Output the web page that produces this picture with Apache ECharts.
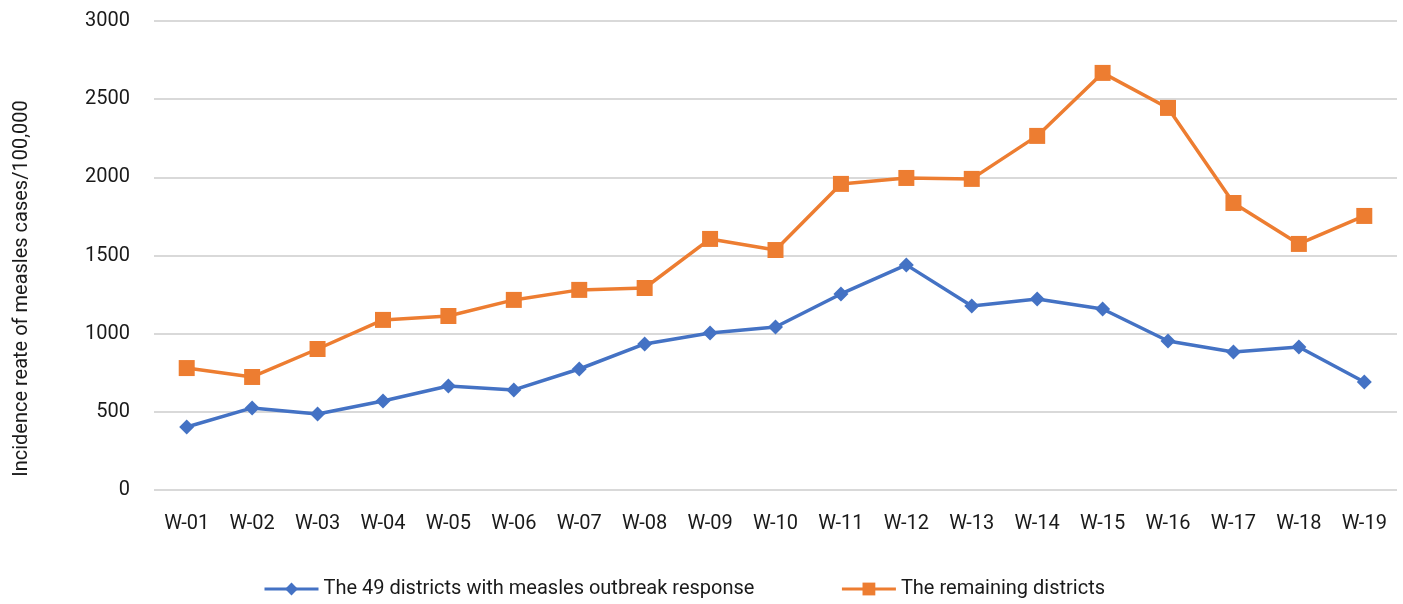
<!DOCTYPE html>
<html>
<head>
<meta charset="utf-8">
<script src="https://cdn.jsdelivr.net/npm/echarts@6/dist/echarts.min.js"></script>
<style>
  html, body { margin: 0; padding: 0; background: #fff; }
  #chart { width: 1403px; height: 604px; }
</style>
</head>
<body>
<div id="chart"></div>
<script>
let weeks = ["W-01", "W-02", "W-03", "W-04", "W-05", "W-06", "W-07", "W-08", "W-09", "W-10",
             "W-11", "W-12", "W-13", "W-14", "W-15", "W-16", "W-17", "W-18", "W-19"];
let outbreakResponse = [403, 525, 486, 569, 665, 640, 774, 934, 1004, 1043,
                        1254, 1440, 1177, 1222, 1158, 953, 883, 915, 691];
let remaining = [780, 723, 902, 1088, 1113, 1216, 1280, 1292, 1606, 1535,
                 1958, 1996, 1990, 2265, 2668, 2444, 1836, 1574, 1753];

let fontName = "Roboto, sans-serif";

var myChart = echarts.init(document.getElementById("chart"));

let option = {
    animation: false,
    textStyle: { fontFamily: fontName, color: '#1a1a1a' },
    grid: { left: 154, right: 6, top: 21, bottom: 114 },
    legend: {
        bottom: 0,
        left: 258,
        itemGap: 86,
        itemWidth: 54,
        itemHeight: 16,
        lineStyle: { width: 3 },
        textStyle: { fontFamily: fontName, fontSize: 20, color: '#1a1a1a' },
        data: ['The 49 districts with measles outbreak response', 'The remaining districts']
    },
    xAxis: {
        type: 'category',
        data: weeks,
        axisLine: { show: false },
        axisTick: { show: false },
        axisLabel: { fontFamily: fontName, fontSize: 20, color: '#1a1a1a', margin: 24 }
    },
    yAxis: {
        type: 'value',
        min: 0,
        max: 3000,
        interval: 500,
        name: 'Incidence reate of measles cases/100,000',
        nameLocation: 'middle',
        nameGap: 122,
        nameTextStyle: { fontFamily: fontName, fontSize: 20, color: '#1a1a1a', padding: [0, 66, 0, 0] },
        axisLabel: { fontFamily: fontName, fontSize: 20, color: '#1a1a1a', margin: 24,
                     formatter: function (v) { return String(v); } },
        splitLine: { lineStyle: { color: '#d9d9d9', width: 2 } }
    },
    series: [
        {
            name: 'The 49 districts with measles outbreak response',
            type: 'line',
            data: outbreakResponse,
            symbol: 'diamond',
            symbolSize: 15,
            color: '#4472c4',
            lineStyle: { width: 3.5 },
            z: 3
        },
        {
            name: 'The remaining districts',
            type: 'line',
            data: remaining,
            symbol: 'rect',
            symbolSize: 16,
            color: '#ed7d31',
            lineStyle: { width: 3.5 },
            z: 2
        }
    ]
};

myChart.setOption(option);
</script>
</body>
</html>
